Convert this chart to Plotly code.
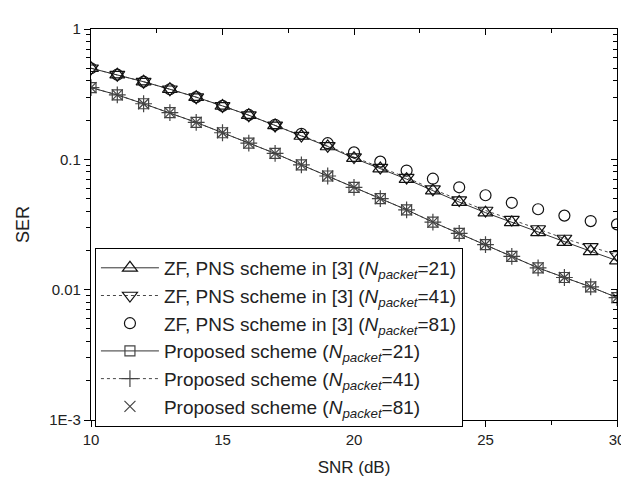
import plotly.graph_objects as go

snr = list(range(10, 31))

ser_zf_21 = [0.5, 0.446, 0.394, 0.345, 0.30, 0.257, 0.218, 0.182, 0.151, 0.1255, 0.102,
             0.085, 0.0705, 0.0575, 0.047, 0.039, 0.0328, 0.0275, 0.0232, 0.0197, 0.0167]
ser_zf_41 = [0.5, 0.446, 0.394, 0.345, 0.30, 0.257, 0.218, 0.182, 0.152, 0.127, 0.104,
             0.0865, 0.0725, 0.059, 0.0487, 0.0405, 0.0345, 0.0292, 0.0247, 0.0213, 0.0185]
ser_zf_81 = [0.5, 0.446, 0.394, 0.345, 0.30, 0.257, 0.219, 0.184, 0.157, 0.133, 0.113,
             0.096, 0.082, 0.071, 0.061, 0.053, 0.0464, 0.0414, 0.037, 0.0336, 0.0317]
ser_prop_21 = [0.355, 0.312, 0.267, 0.228, 0.192, 0.160, 0.133, 0.111, 0.0907, 0.0745, 0.061,
               0.050, 0.041, 0.033, 0.027, 0.0222, 0.0180, 0.0147, 0.0124, 0.0105, 0.0087]
ser_prop_41 = [0.355, 0.312, 0.267, 0.228, 0.192, 0.160, 0.133, 0.111, 0.0907, 0.0745, 0.061,
               0.050, 0.041, 0.033, 0.027, 0.0222, 0.0180, 0.0147, 0.0124, 0.0105, 0.0087]
ser_prop_81 = [0.355, 0.312, 0.267, 0.228, 0.192, 0.160, 0.133, 0.111, 0.0907, 0.0745, 0.061,
               0.050, 0.041, 0.033, 0.027, 0.0222, 0.0180, 0.0147, 0.0124, 0.0105, 0.0087]

x_ticks = [10, 15, 20, 25, 30]
y_tickvals = [0.001, 0.01, 0.1, 1]
y_ticktext = ["1E-3", "0.01", "0.1", "1"]
y_minor = [k * 10.0 ** e for e in (-3, -2, -1) for k in range(2, 10)]

NP = "(<i>N</i><sub><i>packet</i></sub>="
names = [
    "ZF, PNS scheme in [3] " + NP + "21)",
    "ZF, PNS scheme in [3] " + NP + "41)",
    "ZF, PNS scheme in [3] " + NP + "81)",
    "Proposed scheme " + NP + "21)",
    "Proposed scheme " + NP + "41)",
    "Proposed scheme " + NP + "81)",
]

FONT = "Liberation Sans, Arial, sans-serif"
fig = go.Figure()

def add(y, name, mode, symbol, size, color, dash="solid", lw=1.0):
    fig.add_trace(go.Scatter(
        x=snr, y=y, name=name, mode=mode,
        line=dict(color="#333333", width=lw, dash=dash),
        marker=dict(symbol=symbol, size=size, color=color,
                    line=dict(color=color, width=1.2)),
    ))

add(ser_zf_21, names[0], "lines+markers", "triangle-up-open", 13, "#111111")
add(ser_zf_41, names[1], "lines+markers", "triangle-down-open", 13, "#111111", dash="dot", lw=0.9)
add(ser_zf_81, names[2], "markers", "circle-open", 11, "#111111")
add(ser_prop_21, names[3], "lines+markers", "square-open", 10, "#444444")
add(ser_prop_41, names[4], "lines+markers", "cross-thin-open", 12, "#444444", dash="dot", lw=0.9)
add(ser_prop_81, names[5], "markers", "x-thin-open", 11, "#444444")

# invisible trace to carry the mirrored top/right axes
fig.add_trace(go.Scatter(x=snr, y=ser_prop_21, xaxis="x2", yaxis="y2", mode="markers",
                         marker=dict(opacity=0), showlegend=False, hoverinfo="skip"))

common_x = dict(range=[10, 30], showgrid=False, zeroline=False,
                linecolor="black", linewidth=1.2)
fig.update_layout(
    width=629, height=478,
    margin=dict(l=83, r=16, t=16, b=57),
    paper_bgcolor="white", plot_bgcolor="white",
    font=dict(family=FONT, color="#222222"),
    showlegend=True,
    xaxis=dict(**common_x, tickvals=x_ticks, ticks="outside", ticklen=6, tickwidth=1.2,
               tickcolor="black", tickfont=dict(size=15, family=FONT),
               minor=dict(dtick=2.5, ticks="outside", ticklen=4, tickwidth=1, tickcolor="black"),
               title=dict(text="SNR (dB)", font=dict(size=17, family=FONT), standoff=14)),
    xaxis2=dict(**common_x, overlaying="x", side="top", tickvals=x_ticks, ticks="inside",
                ticklen=6, tickwidth=1.2, tickcolor="black", showticklabels=False,
                minor=dict(dtick=2.5, ticks="inside", ticklen=4, tickwidth=1, tickcolor="black")),
    yaxis=dict(type="log", range=[-3, 0], showgrid=False, zeroline=False,
               linecolor="black", linewidth=1.2,
               tickvals=y_tickvals, ticktext=y_ticktext, ticks="outside", ticklen=6,
               tickwidth=1.2, tickcolor="black", tickfont=dict(size=15, family=FONT),
               minor=dict(tickvals=y_minor, ticks="outside", ticklen=4, tickwidth=1,
                          tickcolor="black", showgrid=False),
               title=dict(text="SER", font=dict(size=18, family=FONT), standoff=14)),
    yaxis2=dict(type="log", range=[-3, 0], overlaying="y", side="right", anchor="x",
                showgrid=False, zeroline=False, linecolor="black", linewidth=1.2,
                tickvals=y_tickvals, ticks="inside", ticklen=6, tickwidth=1.2,
                tickcolor="black", showticklabels=False,
                minor=dict(tickvals=y_minor, ticks="inside", ticklen=4, tickwidth=1,
                           tickcolor="black", showgrid=False)),
    legend=dict(x=0.0075, y=0.44, xanchor="left", yanchor="top",
                bgcolor="white", bordercolor="black", borderwidth=1,
                font=dict(size=19, family=FONT, color="#222222"),
                itemwidth=58, tracegroupgap=0),
)

fig.write_html("out.html")
